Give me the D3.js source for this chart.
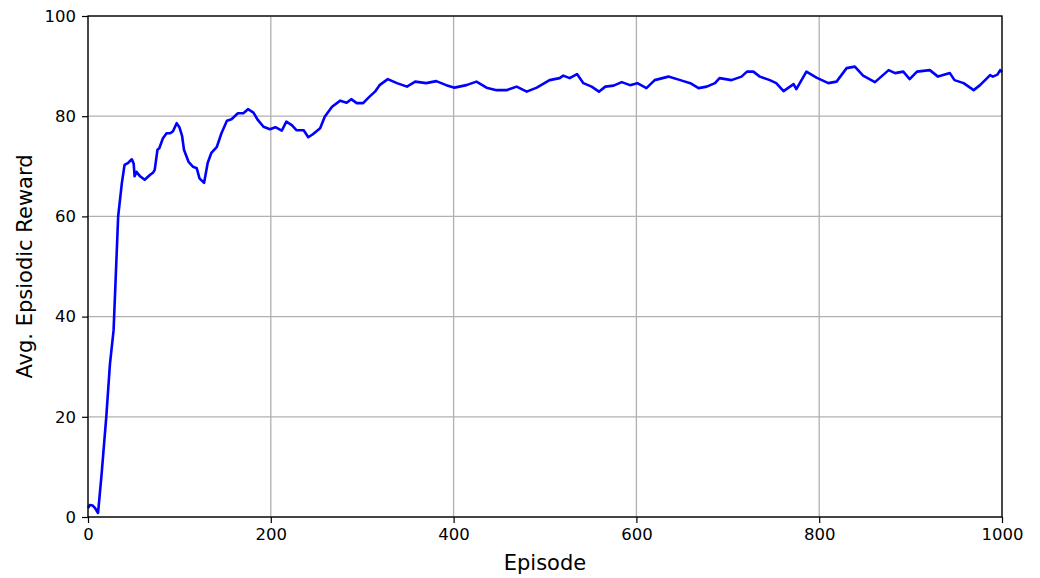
<!DOCTYPE html>
<html>
<head>
<meta charset="utf-8">
<script src="https://cdn.jsdelivr.net/npm/d3@7"></script>
<style>
  html, body { margin: 0; padding: 0; background: #fff; }
  svg { display: block; font-family: "DejaVu Sans", sans-serif; }
</style>
</head>
<body>
<svg id="chart" width="1040" height="578"></svg>
<script>
// Training curve: smoothed average episodic reward per episode
const episodes = [0, 2, 5, 8, 11, 15, 20, 24, 28, 33, 37, 40, 44, 48, 50, 51, 53, 57, 62, 68, 71, 73, 76, 78, 82, 86, 90, 93, 97, 100, 103, 105, 110, 115, 119, 122, 127, 131, 135, 141, 146, 152, 157, 164, 170, 175, 181, 186, 192, 199, 205, 212, 217, 223, 228, 236, 241, 246, 254, 259, 267, 276, 283, 288, 294, 301, 308, 314, 319, 328, 338, 349, 358, 370, 381, 392, 401, 414, 425, 436, 447, 458, 469, 480, 491, 505, 516, 520, 527, 535, 542, 551, 559, 566, 575, 584, 593, 601, 611, 620, 635, 648, 659, 668, 677, 686, 691, 704, 715, 721, 728, 735, 746, 753, 761, 772, 775, 786, 797, 810, 819, 830, 839, 848, 861, 876, 883, 892, 899, 907, 921, 930, 943, 948, 958, 969, 976, 987, 990, 995, 998, 1000];
const rewards  = [1.8, 2.4, 2.3, 1.7, 0.8, 8.8, 20.0, 30.5, 37.3, 60.0, 66.6, 70.3, 70.7, 71.4, 70.5, 68.0, 68.9, 68.0, 67.3, 68.3, 68.7, 69.3, 73.3, 73.6, 75.6, 76.6, 76.6, 77.0, 78.6, 77.8, 76.0, 73.3, 70.9, 69.9, 69.6, 67.6, 66.7, 70.7, 72.7, 73.9, 76.6, 79.1, 79.4, 80.6, 80.6, 81.4, 80.7, 79.2, 77.9, 77.4, 77.8, 77.1, 78.9, 78.2, 77.2, 77.2, 75.8, 76.4, 77.6, 79.9, 81.9, 83.1, 82.7, 83.4, 82.6, 82.6, 83.9, 84.9, 86.2, 87.4, 86.6, 85.9, 86.9, 86.6, 87.0, 86.2, 85.7, 86.2, 86.9, 85.7, 85.2, 85.2, 85.9, 84.9, 85.7, 87.2, 87.6, 88.1, 87.6, 88.4, 86.6, 85.9, 84.9, 85.9, 86.1, 86.8, 86.2, 86.6, 85.6, 87.2, 87.9, 87.2, 86.6, 85.6, 85.9, 86.6, 87.6, 87.2, 87.9, 88.9, 88.9, 87.9, 87.2, 86.6, 85.0, 86.4, 85.4, 88.9, 87.7, 86.6, 86.9, 89.6, 89.9, 88.1, 86.8, 89.2, 88.6, 88.9, 87.4, 88.9, 89.2, 87.9, 88.6, 87.2, 86.6, 85.2, 86.2, 88.2, 87.9, 88.3, 89.2, 88.8];

const xTicks = [0, 200, 400, 600, 800, 1000];
const yTicks = [0, 20, 40, 60, 80, 100];

const margin = { left: 88, right: 38, top: 16, bottom: 61 };
const W = 1040, H = 578;
const svg = d3.select("#chart");

const x = d3.scaleLinear().domain([0, 1000]).range([margin.left, W - margin.right]);
const y = d3.scaleLinear().domain([0, 100]).range([H - margin.bottom, margin.top]);

// grid
const grid = svg.append("g").attr("stroke", "#b0b0b0").attr("stroke-width", 1.3);
grid.selectAll(".gx").data(xTicks).join("line")
  .attr("x1", d => x(d)).attr("x2", d => x(d))
  .attr("y1", y(0)).attr("y2", y(100));
grid.selectAll(".gy").data(yTicks).join("line")
  .attr("x1", x(0)).attr("x2", x(1000))
  .attr("y1", d => y(d)).attr("y2", d => y(d));

// reward curve
const line = d3.line().x((d, i) => x(episodes[i])).y(d => y(d));
svg.append("path")
  .datum(rewards)
  .attr("fill", "none")
  .attr("stroke", "#0000ff")
  .attr("stroke-width", 2.6)
  .attr("stroke-linejoin", "round")
  .attr("d", line);

// axes
const fmt = d3.format("d");
const xAxis = svg.append("g")
  .attr("transform", `translate(0,${y(0)})`)
  .call(d3.axisBottom(x).tickValues(xTicks).tickFormat(fmt).tickSize(6).tickPadding(5).tickSizeOuter(0));
const yAxis = svg.append("g")
  .attr("transform", `translate(${x(0)},0)`)
  .call(d3.axisLeft(y).tickValues(yTicks).tickFormat(fmt).tickSize(6).tickPadding(6).tickSizeOuter(0));
[xAxis, yAxis].forEach(a => {
  a.select(".domain").remove();
  a.selectAll("line").attr("stroke", "#000").attr("stroke-width", 1.2);
  a.selectAll("text").attr("fill", "#000").style("font-size", "16.5px")
    .style("font-family", "DejaVu Sans, sans-serif");
});

// frame
svg.append("rect")
  .attr("x", x(0)).attr("y", y(100))
  .attr("width", x(1000) - x(0)).attr("height", y(0) - y(100))
  .attr("fill", "none").attr("stroke", "#000").attr("stroke-width", 1.3);

// labels
svg.append("text")
  .attr("x", (x(0) + x(1000)) / 2).attr("y", 570)
  .attr("text-anchor", "middle")
  .style("font-size", "21px")
  .text("Episode");
svg.append("text")
  .attr("transform", `translate(32,${(y(0) + y(100)) / 2}) rotate(-90)`)
  .attr("text-anchor", "middle")
  .style("font-size", "21px")
  .text("Avg. Epsiodic Reward");
</script>
</body>
</html>
